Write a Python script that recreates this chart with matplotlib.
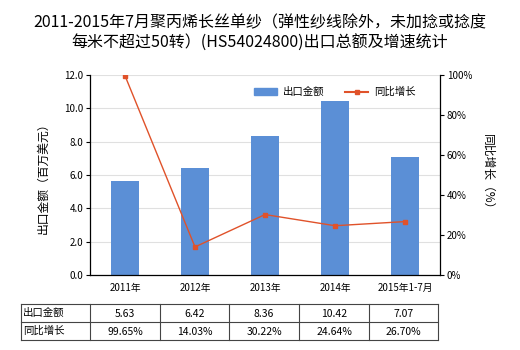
import matplotlib
matplotlib.use("Agg")
import matplotlib.pyplot as plt
from matplotlib.lines import Line2D
from matplotlib.patches import Patch

plt.rcParams['font.family'] = ['Noto Sans CJK SC', 'DejaVu Sans']

categories = ["2011年", "2012年", "2013年", "2014年", "2015年1-7月"]
export_values = [5.63, 6.42, 8.36, 10.42, 7.07]
growth_values = [99.65, 14.03, 30.22, 24.64, 26.70]
export_labels = ["5.63", "6.42", "8.36", "10.42", "7.07"]
growth_labels = ["99.65%", "14.03%", "30.22%", "24.64%", "26.70%"]
row_names = ["出口金额", "同比增长"]
title = "2011-2015年7月聚丙烯长丝单纱（弹性纱线除外，未加捻或捻度\n每米不超过50转）(HS54024800)出口总额及增速统计"

W, H = 520, 350
fig = plt.figure(figsize=(W / 100, H / 100), dpi=100)

bar_color = "#5b8fd6"
line_color = "#e0522a"

ax = fig.add_axes([90 / W, 1 - 275 / H, 350 / W, 200 / H])
x = list(range(len(categories)))
ax.bar(x, export_values, width=0.4, color=bar_color, zorder=2)
ax.set_xlim(-0.5, len(categories) - 0.5)
ax.set_ylim(0, 12)
ax.set_yticks([0, 2, 4, 6, 8, 10, 12])
ax.set_yticklabels([f"{v:.1f}" for v in [0, 2, 4, 6, 8, 10, 12]], fontsize=7)
ax.set_xticks(x)
ax.set_xticklabels(categories, fontsize=7)
ax.tick_params(axis='x', length=0, pad=6)
ax.tick_params(axis='y', length=3, pad=2)
ax.grid(axis='y', color="#e0e0e0", linewidth=0.8, zorder=0)
ax.spines['top'].set_visible(False)
ax.spines['right'].set_visible(False)
for s in ['left', 'bottom']:
    ax.spines[s].set_color('black')
    ax.spines[s].set_linewidth(0.9)
ax.set_ylabel("出口金额（百万美元）", fontsize=8.5, labelpad=10)

ax2 = ax.twinx()
ax2.plot(x, growth_values, color=line_color, linewidth=1.0, marker='s', markersize=3, zorder=3)
ax2.set_ylim(0, 100)
ax2.set_yticks([0, 20, 40, 60, 80, 100])
ax2.set_yticklabels([f"{v}%" for v in [0, 20, 40, 60, 80, 100]], fontsize=7)
ax2.tick_params(axis='y', length=3, pad=2)
for s in ['top', 'left', 'bottom']:
    ax2.spines[s].set_visible(False)
ax2.spines['right'].set_color('black')
ax2.spines['right'].set_linewidth(0.9)
ax2.set_ylabel("同比增长（%）", fontsize=8.5, rotation=270, labelpad=16)

handles = [Patch(color=bar_color), Line2D([0], [0], color=line_color, marker='s', markersize=3, linewidth=1.5)]
ax2.legend(handles, row_names, loc='center', bbox_to_anchor=(0.7, 0.915), ncol=2, frameon=False,
           fontsize=7.5, handlelength=2.2, columnspacing=2.0, handletextpad=0.6)

fig.text(0.5, 1 - 33 / H, title, ha='center', va='center', fontsize=11.5, linespacing=1.25)

# table
tab = fig.add_axes([0, 0, 1, 1], facecolor='none')
tab.set_xlim(0, W)
tab.set_ylim(H, 0)
tab.axis('off')
x0, x1 = 21, 438
col_edges = [21, 90, 160, 229, 299, 369, 438]
y_edges = [304, 322, 340]
for yy in y_edges:
    tab.plot([x0, x1], [yy, yy], color='#444444', linewidth=0.8)
for xx in col_edges:
    tab.plot([xx, xx], [y_edges[0], y_edges[-1]], color='#444444', linewidth=0.8)
for r, name in enumerate(row_names):
    yc = (y_edges[r] + y_edges[r + 1]) / 2
    tab.text(col_edges[0] + 2, yc, name, ha='left', va='center', fontsize=7.5)
    labels = export_labels if r == 0 else growth_labels
    for c, lab in enumerate(labels):
        xc = (col_edges[c + 1] + col_edges[c + 2]) / 2
        tab.text(xc, yc + 1, lab, ha='center', va='center', fontsize=7.5)

fig.savefig("out.png", dpi=100)
